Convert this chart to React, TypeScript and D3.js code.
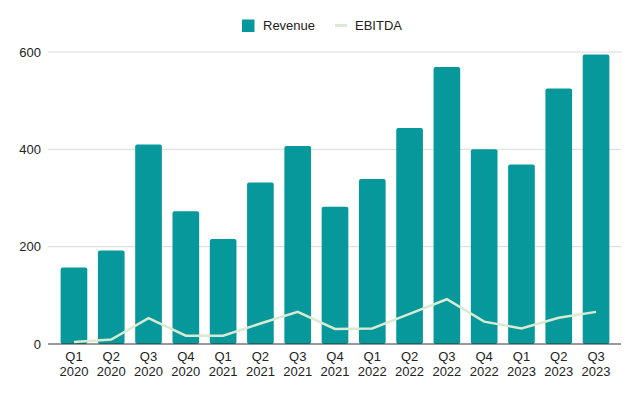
import React, { useRef, useEffect } from 'react';
import * as d3 from 'd3';

const quarters = ['Q1', 'Q2', 'Q3', 'Q4', 'Q1', 'Q2', 'Q3', 'Q4', 'Q1', 'Q2', 'Q3', 'Q4', 'Q1', 'Q2', 'Q3'];
const years = ['2020', '2020', '2020', '2020', '2021', '2021', '2021', '2021', '2022', '2022', '2022', '2022', '2023', '2023', '2023'];
const revenue = [157, 192, 410, 273, 216, 332, 407, 282, 339, 444, 569, 400, 369, 525, 595];
const ebitda = [4, 9, 53, 17, 17, 42, 66, 31, 32, 62, 92, 46, 32, 54, 66];
const yTicks = [0, 200, 400, 600];

const App = () => {
  const ref = useRef<SVGSVGElement>(null);

  useEffect(() => {
    if (!ref.current) return;
    const svg = d3.select(ref.current);
    svg.selectAll('*').remove();
    const font = 'Liberation Sans, Arial, sans-serif';

    const labels = quarters.map((q, i) => `${q} ${years[i]}`);
    const x = d3.scaleBand().domain(labels).range([55.4, 614.6]).paddingInner(0.285).paddingOuter(0.14);
    const y = d3.scaleLinear().domain([0, 600]).range([344, 52]);

    // gridlines
    svg.append('g')
      .selectAll('line')
      .data(yTicks.filter(d => d > 0))
      .enter().append('line')
      .attr('x1', 48).attr('x2', 621)
      .attr('y1', d => y(d)).attr('y2', d => y(d))
      .attr('stroke', '#d9d9d9').attr('stroke-width', 1);

    svg.append('g')
      .selectAll('text')
      .data(yTicks)
      .enter().append('text')
      .attr('x', 41).attr('y', d => y(d) + 4.5)
      .attr('text-anchor', 'end')
      .attr('font-family', font).attr('font-size', 13).attr('fill', '#222')
      .text(d => d);

    svg.append('g')
      .selectAll('rect')
      .data(revenue)
      .enter().append('rect')
      .attr('x', (d, i) => x(labels[i])!)
      .attr('width', x.bandwidth())
      .attr('y', d => y(d))
      .attr('height', d => y(0) - y(d))
      .attr('rx', 2)
      .attr('fill', '#06989b');

    svg.append('line')
      .attr('x1', 48).attr('x2', 621)
      .attr('y1', y(0)).attr('y2', y(0))
      .attr('stroke', '#333').attr('stroke-width', 1);

    const line = d3.line<number>()
      .x((d, i) => x(labels[i])! + x.bandwidth() / 2)
      .y(d => y(d));
    svg.append('path')
      .datum(ebitda)
      .attr('d', line)
      .attr('fill', 'none')
      .attr('stroke', '#d9ead3')
      .attr('stroke-width', 2.5);

    // two-line category labels
    const xg = svg.append('g')
      .attr('font-family', font).attr('font-size', 13).attr('fill', '#222')
      .attr('text-anchor', 'middle');
    xg.selectAll('text.q')
      .data(labels)
      .enter().append('text')
      .attr('class', 'q')
      .attr('x', (d) => x(d)! + x.bandwidth() / 2)
      .attr('y', 361)
      .text((d, i) => quarters[i]);
    xg.selectAll('text.yr')
      .data(labels)
      .enter().append('text')
      .attr('class', 'yr')
      .attr('x', (d) => x(d)! + x.bandwidth() / 2)
      .attr('y', 375.5)
      .text((d, i) => years[i]);

    // legend
    const lg = svg.append('g');
    lg.append('rect').attr('x', 242).attr('y', 19.5).attr('width', 12.5).attr('height', 12.5).attr('fill', '#06989b');
    lg.append('text').attr('x', 263).attr('y', 30)
      .attr('font-family', font).attr('font-size', 13).attr('fill', '#222').text('Revenue');
    lg.append('line').attr('x1', 335).attr('x2', 347).attr('y1', 25.5).attr('y2', 25.5)
      .attr('stroke', '#d9ead3').attr('stroke-width', 3);
    lg.append('text').attr('x', 355).attr('y', 30)
      .attr('font-family', font).attr('font-size', 13).attr('fill', '#222').text('EBITDA');
  }, []);

  return (
    <svg ref={ref} width={640} height={396} style={{ position: 'absolute', left: 0, top: 0, background: '#fff' }} />
  );
};

export default App;
